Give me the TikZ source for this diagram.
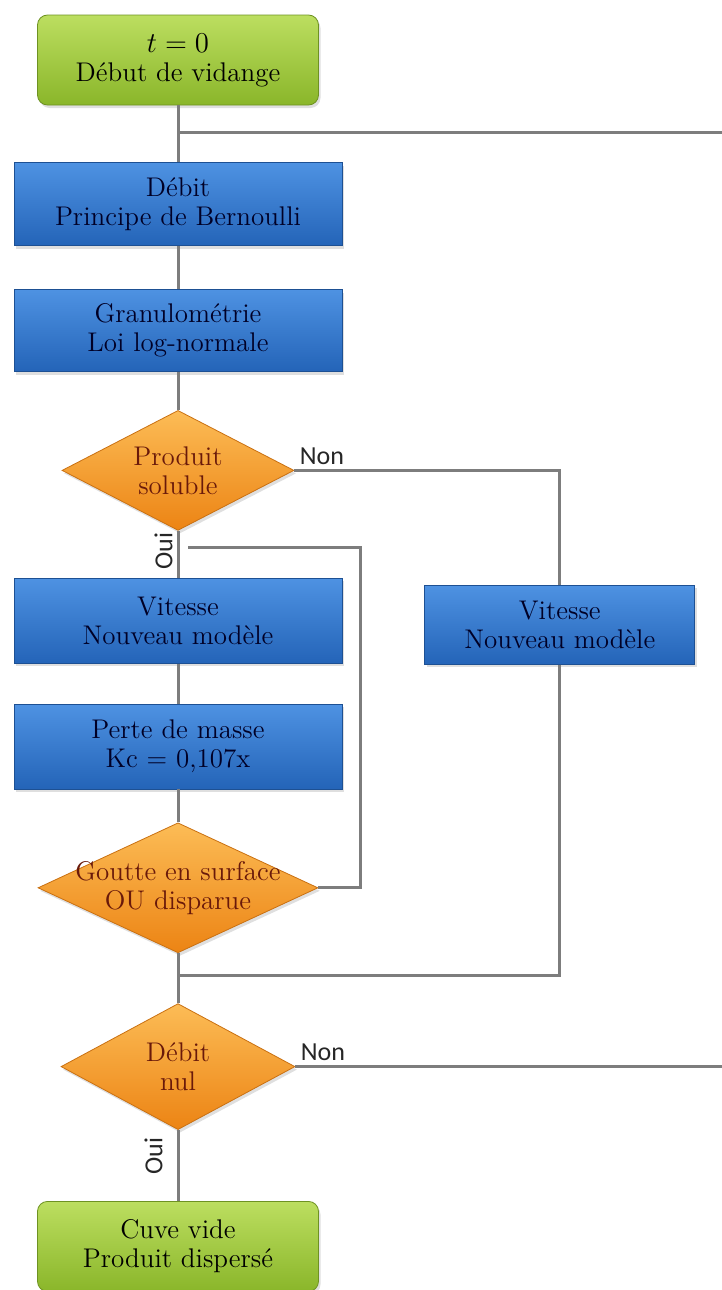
\documentclass[tikz,border=0pt]{standalone}
\usepackage{fontspec}
\newfontfamily\answerfont{Carlito}
\usetikzlibrary{
    positioning,
    shapes.geometric,
    shadows
}

\definecolor{greenTop}{RGB}{188,222,96}
\definecolor{greenBot}{RGB}{138,182,42}
\definecolor{blueTop}{RGB}{78,146,226}
\definecolor{blueBot}{RGB}{36,100,184}
\definecolor{orangeTop}{RGB}{252,188,86}
\definecolor{orangeBot}{RGB}{236,132,20}
\definecolor{lineGray}{RGB}{125,125,125}
\definecolor{decisionText}{RGB}{105,25,10}

\begin{document}
\begin{tikzpicture}[
        node distance=20pt and 41pt,
        terminal/.style={rectangle, rounded corners=5pt, draw=greenBot!80!black,
                      top color=greenTop, bottom color=greenBot,
                      minimum width=140.5pt, minimum height=45pt, align=center,
                      font=\fontsize{13.5}{14.5}\selectfont,
                      drop shadow={opacity=0.25, shadow xshift=1pt, shadow yshift=-1.5pt}},
        process/.style={rectangle, draw=blueBot!80!black,
                      top color=blueTop, bottom color=blueBot,
                      minimum width=164pt, minimum height=41.5pt, align=center,
                      text=black!85!blue, font=\fontsize{13.5}{14.5}\selectfont,
                      drop shadow={opacity=0.25, shadow xshift=1pt, shadow yshift=-1.5pt}},
        decision/.style={diamond, draw=orangeBot!85!black, inner sep=0pt,
                      top color=orangeTop, bottom color=orangeBot,
                      drop shadow={opacity=0.25, shadow xshift=1pt, shadow yshift=-1.5pt}},
        dtext/.style={align=center, text=decisionText, inner sep=0pt,
                      font=\fontsize{13.5}{14.5}\selectfont},
        line/.style={draw=lineGray, line width=1.5pt},
        answer/.style={font=\answerfont\fontsize{13}{15}\selectfont, text=black!85,
                      inner sep=2pt},
    ]

    \useasboundingbox (0,0) rectangle (361pt,-645pt);
    \coordinate (edge) at (361pt,0);

    % Nodes - main column (top to bottom)
    \node[terminal] (start) at (89pt,-30pt) {$t=0$\\D\'ebut de vidange};
    \node[process, below=28.5pt of start] (bern) {D\'ebit\\Principe de Bernoulli};
    \node[process, below=21.5pt of bern, minimum height=41pt] (gran)
        {Granulom\'etrie\\Loi log-normale};
    \node[decision, below=19pt of gran, minimum width=116pt, minimum height=60pt,
          label={[dtext]center:Produit\\soluble}] (sol) {};
    \node[process, below=23.5pt of sol, minimum height=42.5pt] (vit)
        {Vitesse\\Nouveau mod\`ele};
    \node[process, below=of vit, minimum height=42.5pt] (masse)
        {Perte de masse\\Kc = 0,107x};
    \node[decision, below=16.5pt of masse, minimum width=140pt, minimum height=65pt,
          label={[dtext]center:Goutte en surface\\OU disparue}] (goutte) {};
    \node[decision, below=25pt of goutte, minimum width=117pt, minimum height=63pt,
          label={[dtext]center:D\'ebit\\nul}] (nul) {};
    \node[terminal, below=35.5pt of nul] (stop) {Cuve vide\\Produit dispers\'e};

    % Node - right column
    \node[process, right=of vit, yshift=-2pt, minimum width=135pt,
          minimum height=39.5pt] (vitb) {Vitesse\\Nouveau mod\`ele};

    % Junction points
    \coordinate (j1) at ([yshift=-13.5pt]start.south);
    \coordinate (j2) at ([xshift=5pt, yshift=-8.5pt]sol.south);
    \coordinate (j3) at ([yshift=-11pt]goutte.south);
    \coordinate (r2) at ([xshift=9pt]vit.east);

    % Main line
    \draw[line] (start) -- (bern);
    \draw[line] (bern)  -- (gran);
    \draw[line] (gran)  -- (sol);
    \draw[line] (sol.south) -- (vit.north)
        node[answer, pos=0.43, rotate=90, anchor=south] {Oui};
    \draw[line] (vit)   -- (masse);
    \draw[line] (masse) -- (goutte);
    \draw[line] (goutte.south) -- (nul.north);
    \draw[line] (nul.south) -- (stop.north)
        node[answer, pos=0.37, rotate=90, anchor=south, yshift=5pt] {Oui};

    % Branches and loops
    \draw[line] (j1) -- (j1 -| edge);
    \draw[line] (sol.east) -| (vitb.north)
        node[answer, pos=0, anchor=south west] {Non};
    \draw[line] (vitb.south) |- (j3);
    \draw[line] (goutte.east) -- (goutte.east -| r2) |- (j2);
    \draw[line] (nul.east) -- (nul.east -| edge)
        node[answer, pos=0, anchor=south west] {Non};

\end{tikzpicture}
\end{document}
